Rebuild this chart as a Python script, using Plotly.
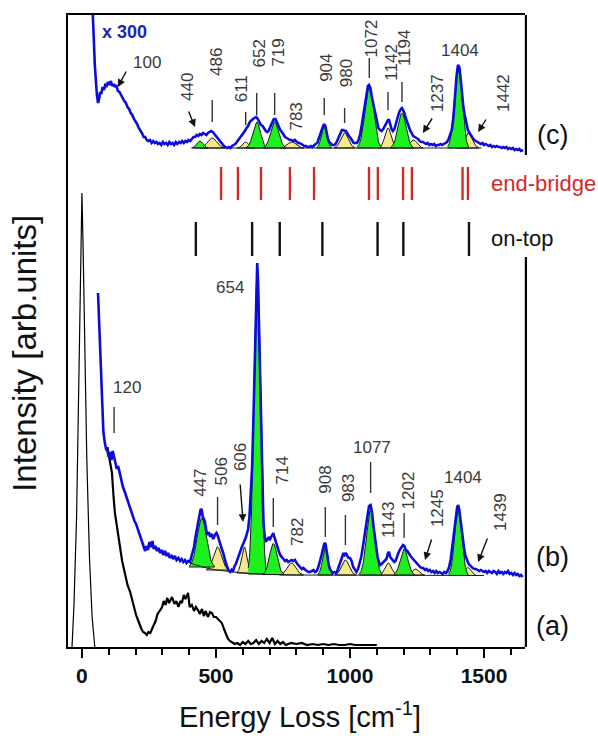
import numpy as np
import plotly.graph_objects as go

FONT = "Liberation Sans, Arial, sans-serif"
BLUE = "#0b0bdc"
GREEN = "#1ef01e"
YELLOW = "#f5e98c"
RED = "#d12a2a"
LABEL = "#3a3a3a"

# ---------------- spectra (x: energy loss / cm^-1, y: intensity incl. offset) ----
# (a) elastic line
a_el_x = [-37, -30, -20, -10, -4, 0, 4, 10, 18, 28, 38, 48]
a_el_y = [0, 40, 130, 290, 400, 454, 405, 300, 190, 90, 30, 0]

# (a) low-frequency spectrum
a_x = [95, 105, 112, 118, 123, 132, 142, 150, 160, 170, 180, 187, 195, 202, 209, 215,
       222, 228, 235, 242, 248, 255, 261, 268, 275, 282, 290, 299, 305, 312, 318, 325,
       336, 345, 352, 360, 367, 373, 380, 386, 396, 402, 410, 418, 425, 433, 440, 448,
       455, 462, 470, 478, 485, 492, 500, 508, 515, 522, 530, 538, 545, 552, 560, 570,
       580, 590, 600, 610, 620, 630, 640, 650, 660, 670, 680, 690, 700, 710, 720, 730,
       740, 750, 760, 780, 800, 820, 840, 860, 880, 900, 920, 940, 960, 980, 1000, 1020,
       1040, 1060, 1080, 1100]
a_y = [200, 186, 174, 150, 134, 118, 100, 86, 74, 62, 55, 47, 40, 32, 27, 22,
       18, 15, 14, 12, 15, 14, 17, 22, 26, 33, 36, 40, 46, 42, 49, 44,
       50, 43, 46, 40, 46, 44, 52, 48, 54, 40, 42, 36, 40, 37, 33, 38,
       31, 36, 30, 35, 34, 30, 30, 28, 26, 24, 18, 12, 8, 6, 5, 3,
       4, 2, 5, 3, 6, 3, 4, 7, 3, 6, 4, 8, 4, 9, 3, 6,
       3, 5, 2, 4, 3, 4, 2, 3, 2, 3, 2, 3, 2, 2, 3, 2,
       2, 2, 2, 2]

# (b) spectrum
b_x = [60, 63, 66, 70, 74, 77, 80, 85, 90, 95, 100, 105, 110, 115, 120, 125, 130, 135,
       142, 148, 153, 160, 166, 172, 178, 184, 190, 196, 202, 208, 214, 220, 226, 231,
       236, 241, 246, 252, 258, 263, 268, 274, 280, 286, 292, 298, 304, 310, 316, 322,
       328, 334, 340, 347, 353, 360, 366, 372, 378, 384, 390, 396, 403, 410, 418, 425,
       432, 438, 443, 447, 451, 455, 459, 464, 469, 474, 479, 484, 490, 496, 502, 507,
       512, 517, 522, 527, 532, 537, 542, 548, 553, 558, 563, 568, 574, 580, 586, 592,
       598, 603, 608, 612, 616, 620, 625, 630, 635, 640, 645, 649, 654, 657, 661, 665,
       669, 673, 677, 682, 687, 692, 697, 702, 708, 714, 719, 724, 729, 734, 740, 746,
       752, 758, 764, 770, 776, 782, 788, 795, 801, 807, 814, 820, 826, 832, 838, 845,
       851, 858, 864, 870, 876, 882, 888, 894, 899, 904, 908, 912, 916, 920, 925, 930,
       936, 942, 948, 954, 960, 966, 971, 976, 980, 985, 990, 995, 1000, 1006, 1012, 1018,
       1024, 1030, 1036, 1042, 1048, 1054, 1060, 1066, 1071, 1077, 1082, 1088, 1093, 1098,
       1103, 1108, 1113, 1118, 1124, 1130, 1136, 1142, 1146, 1150, 1155, 1160, 1165, 1170,
       1176, 1182, 1188, 1194, 1198, 1203, 1208, 1214, 1220, 1226, 1232, 1238, 1244, 1250,
       1256, 1262, 1268, 1274, 1280, 1286, 1292, 1298, 1304, 1310, 1316, 1322, 1328, 1334,
       1340, 1346, 1352, 1358, 1364, 1370, 1376, 1382, 1388, 1394, 1400, 1404, 1408, 1412,
       1416, 1420, 1425, 1430, 1436, 1441, 1446, 1452, 1458, 1464, 1470, 1476, 1482, 1488,
       1494, 1500, 1506, 1512, 1518, 1524, 1530, 1536, 1542, 1548, 1554, 1560, 1566, 1572,
       1578, 1584, 1590, 1596, 1602, 1608, 1614, 1620, 1626, 1632, 1638, 1644]
b_y = [354, 330, 305, 280, 255, 230, 215, 205, 198, 196, 190, 195, 187, 196, 190, 183, 178, 181,
       172, 166, 160, 155, 150, 146, 140, 137, 131, 126, 123, 118, 113, 108, 104, 99,
       96, 101, 97, 105, 100, 106, 98, 101, 96, 99, 94, 97, 92, 96, 91, 94,
       89, 92, 88, 91, 87, 89, 86, 88, 85, 87, 84, 86, 85, 92, 100, 112,
       124, 132, 138, 137, 130, 128, 125, 116, 112, 115, 110, 113, 108, 112, 114, 111,
       106, 103, 98, 94, 88, 84, 80, 76, 75, 77, 75, 80, 83, 88, 92, 96,
       101, 104, 107, 110, 114, 118, 130, 150, 180, 230, 290, 350, 384, 365, 320, 270,
       210, 160, 125, 110, 106, 107, 110, 108, 112, 114, 109, 104, 100, 96, 92, 90,
       89, 86, 87, 85, 86, 87, 86, 87, 84, 82, 80, 78, 79, 77, 76, 75,
       75, 76, 77, 75, 76, 80, 85, 92, 98, 103, 104, 99, 91, 83, 78, 76,
       74, 75, 74, 77, 82, 88, 92, 94, 92, 94, 91, 89, 89, 86, 80, 77,
       75, 78, 83, 90, 100, 112, 124, 135, 141, 142, 135, 120, 110, 98,
       90, 85, 82, 83, 85, 86, 88, 94, 95, 90, 88, 87, 85, 86,
       91, 95, 98, 101, 102, 101, 97, 96, 93, 91, 89, 87, 85, 84,
       81, 80, 79, 79, 77, 78, 76, 77, 75, 76, 74, 76, 74, 75,
       74, 73, 75, 74, 76, 80, 88, 102, 118, 132, 140, 142, 137, 128,
       118, 110, 100, 92, 87, 84, 82, 80, 79, 78, 78, 77, 76, 77,
       76, 75, 76, 74, 76, 75, 74, 76, 75, 73, 76, 74, 75, 73,
       75, 74, 76, 73, 74, 72, 74, 72, 73, 71, 72, 70]

# (c) spectrum (x 300)
c_x = [36, 40, 44, 48, 52, 56, 60, 64, 68, 72, 77, 82, 87, 92, 97, 102, 108, 113, 118, 123,
       128, 134, 140, 146, 152, 158, 164, 170, 176, 182, 188, 194, 200, 206, 212, 218, 224,
       230, 236, 242, 248, 254, 260, 266, 272, 278, 284, 290, 296, 302, 308, 314, 320, 326,
       332, 338, 344, 350, 356, 362, 368, 374, 380, 386, 392, 398, 404, 410, 416, 422, 428,
       434, 440, 446, 452, 458, 464, 470, 476, 482, 488, 494, 500, 506, 512, 518, 524, 530,
       536, 542, 548, 554, 560, 566, 572, 578, 584, 590, 596, 602, 608, 614, 620, 626, 632,
       638, 644, 650, 656, 662, 668, 674, 680, 686, 692, 698, 704, 710, 716, 722, 728, 734,
       740, 746, 752, 758, 764, 770, 776, 782, 788, 794, 800, 806, 812, 818, 824, 830, 836,
       842, 848, 854, 860, 866, 872, 878, 884, 890, 896, 900, 904, 908, 912, 917, 922, 928,
       934, 940, 946, 952, 958, 964, 970, 976, 980, 985, 990, 996, 1002, 1008, 1014, 1020,
       1026, 1032, 1038, 1044, 1050, 1056, 1062, 1067, 1071, 1076, 1081, 1086, 1091, 1096,
       1101, 1106, 1112, 1118, 1124, 1130, 1136, 1142, 1146, 1150, 1155, 1160, 1166, 1172,
       1178, 1184, 1190, 1194, 1198, 1203, 1208, 1213, 1218, 1224, 1230, 1236, 1242, 1248,
       1254, 1260, 1266, 1272, 1278, 1284, 1290, 1296, 1302, 1308, 1314, 1320, 1326, 1332,
       1338, 1344, 1350, 1356, 1362, 1368, 1374, 1380, 1386, 1392, 1398, 1403, 1408, 1413,
       1418, 1423, 1428, 1434, 1440, 1446, 1452, 1458, 1464, 1470, 1476, 1482, 1488, 1494,
       1500, 1506, 1512, 1518, 1524, 1530, 1536, 1542, 1548, 1554, 1560, 1566, 1572, 1578,
       1584, 1590, 1596, 1602, 1608, 1614, 1620, 1626, 1632, 1638, 1646]
c_y = [660, 640, 610, 582, 565, 552, 544, 548, 555, 553, 560, 557, 562, 561, 565, 562, 566, 561, 563, 560,
       562, 556, 555, 551, 549, 546, 544, 540, 538, 534, 532, 528, 526, 523, 519, 517, 514,
       510, 510, 507, 506, 507, 504, 506, 504, 505, 503, 504, 502, 505, 503, 504, 502, 505,
       503, 504, 502, 505, 503, 505, 504, 506, 504, 506, 505, 507, 506, 508, 510, 510, 512,
       511, 513, 512, 514, 513, 512, 514, 515, 516, 515, 513, 511, 508, 506, 504, 502, 501,
       500, 499, 500, 499, 501, 502, 503, 505, 507, 509, 511, 514, 516, 519, 521, 525, 527,
       528, 529, 530, 528, 524, 522, 521, 518, 516, 515, 517, 521, 525, 528, 528, 524, 520,
       517, 515, 512, 510, 509, 508, 507, 507, 506, 507, 505, 504, 504, 503, 502, 501, 501,
       500, 500, 501, 500, 502, 503, 504, 508, 513, 518, 521, 523, 521, 515, 509, 505, 503,
       502, 502, 503, 506, 510, 514, 517, 517, 516, 516, 513, 511, 509, 506, 504, 504,
       504, 507, 513, 522, 533, 545, 555, 561, 562, 559, 551, 543, 538, 532,
       524, 519, 517, 516, 518, 521, 525, 527, 527, 523, 518, 516, 518, 524,
       530, 535, 538, 539, 537, 534, 529, 525, 521, 517, 514, 511, 510, 509,
       508, 506, 505, 505, 504, 503, 504, 502, 503, 502, 503, 501, 502, 502,
       503, 502, 503, 504, 505, 508, 512, 517, 530, 552, 572, 582, 580, 568,
       552, 540, 532, 523, 517, 514, 511, 509, 507, 506, 505, 504, 503, 504,
       502, 503, 502, 501, 502, 500, 501, 500, 501, 500, 500, 499, 500, 499,
       500, 498, 499, 498, 499, 497, 498, 497, 498, 496, 497]

# fit baselines
b_base_x = [403, 450, 500, 560, 620, 700, 800, 1500]
b_base_y = [84, 80, 77, 75, 73.5, 72.5, 72, 71.5]
c_base_x = [418, 1490]
c_base_y = [499, 499]

# fitted components: position, height, width (sigma), base level, kind (g = green, y = yellow)
b_pk_pos = [447, 506, 606, 654, 714, 782, 908, 983, 1077, 1143, 1202, 1245, 1404, 1439]
b_pk_height = [49, 23, 26, 309, 31, 12, 28, 15, 65, 12, 26, 6, 66, 8]
b_pk_sigma = [17, 15, 10, 12, 14, 16, 10, 14, 15, 12, 14, 12, 13, 12]
b_pk_base = [80, 77, 74, 73, 72.5, 72, 72, 72, 72, 72, 72, 72, 71.5, 71.5]
b_pk_kind = ["g", "y", "y", "g", "g", "y", "g", "y", "g", "y", "g", "y", "g", "y"]

c_pk_pos = [440, 486, 611, 652, 719, 783, 904, 980, 1072, 1142, 1194, 1237, 1404, 1442]
c_pk_height = [7, 10, 6, 26, 26, 6, 23, 15, 61, 20, 35, 8, 80, 15]
c_pk_sigma = [11, 17, 11, 14, 15, 16, 10, 14, 16, 12, 15, 13, 14, 14]
c_pk_base = [499] * 14
c_pk_kind = ["g", "y", "y", "g", "g", "y", "g", "y", "g", "y", "g", "y", "g", "y"]

# calculated mode positions
end_bridge = [519, 582, 668, 776, 866, 1071, 1104, 1198, 1231, 1420, 1440]
on_top = [425, 635, 738, 897, 1103, 1199, 1444]

# ---------------- label placement: value -> (text x, text y, angle, marker) ----------
c_label_layout = {
    100: (243, 585, 0, ("arrow", 168, 577, 134, 560)),
    440: (392, 560, -90, ("arrow", 396, 537, 422, 520)),
    486: (500, 585, -90, ("line", 525, 547)),
    611: (594, 558, -90, ("line", 522, 535)),
    652: (662, 594, -90, ("line", 532, 554)),
    719: (730, 594, -90, ("line", 532, 554)),
    783: (797, 530, -90, None),
    904: (910, 579, -90, ("line", 532, 549)),
    980: (986, 574, -90, ("line", 524, 539)),
    1072: (1080, 609, -90, ("line", 569, 589)),
    1142: (1152, 585, -90, ("line", 537, 555)),
    1194: (1202, 599, -90, ("line", 545, 565)),
    1237: (1325, 554, -90, ("arrow", 1310, 530, 1272, 514)),
    1404: (1410, 597, 0, None),
    1442: (1571, 554, -90, ("arrow", 1511, 529, 1478, 515)),
}
b_label_layout = {
    120: (168, 260, 0, ("line", 214, 240)),
    447: (440, 164, -90, None),
    506: (517, 175, -90, ("line", 122, 150)),
    606: (590, 190, -90, ("arrow", 590, 164, 601, 125)),
    654: (552, 360, 0, None),
    714: (748, 177, -90, ("line", 120, 149)),
    782: (802, 115, -90, None),
    908: (906, 167, -90, ("line", 110, 140)),
    983: (993, 159, -90, ("line", 102, 132)),
    1077: (1082, 200, 0, ("line", 154, 185)),
    1143: (1142, 127, -90, None),
    1202: (1218, 157, -90, ("line", 109, 134)),
    1245: (1325, 139, -90, ("arrow", 1306, 109, 1280, 87)),
    1404: (1422, 170, 0, None),
    1439: (1560, 135, -90, ("arrow", 1515, 110, 1478, 85)),
}

fig = go.Figure()


def add_components(pos, height, sigma, base, kind):
    # yellow components underneath, green components on top
    for want in ("y", "g"):
        for p, h, s, b0, k in zip(pos, height, sigma, base, kind):
            if k != want:
                continue
            xs = np.linspace(p - 2.8 * s, p + 2.8 * s, 60)
            ys = b0 + h * np.exp(-0.5 * ((xs - p) / s) ** 2)
            fig.add_trace(go.Scatter(
                x=np.r_[xs, xs[-1], xs[0]], y=np.r_[ys, b0, b0],
                mode="lines", fill="toself",
                fillcolor=GREEN if k == "g" else YELLOW,
                line=dict(color="#1a1a1a", width=1),
                hoverinfo="skip", showlegend=False))


# spectrum (a)
fig.add_trace(go.Scatter(x=a_el_x, y=a_el_y, mode="lines",
                         line=dict(color="black", width=1.2), showlegend=False))
fig.add_trace(go.Scatter(x=a_x, y=a_y, mode="lines",
                         line=dict(color="black", width=2.2), showlegend=False))

# spectrum (b) with fitted components
add_components(b_pk_pos, b_pk_height, b_pk_sigma, b_pk_base, b_pk_kind)
fig.add_trace(go.Scatter(x=b_base_x, y=b_base_y, mode="lines",
                         line=dict(color="#1a1a1a", width=1), showlegend=False))
fig.add_trace(go.Scatter(x=b_x, y=b_y, mode="lines",
                         line=dict(color=BLUE, width=2.6), showlegend=False))

# spectrum (c) with fitted components
add_components(c_pk_pos, c_pk_height, c_pk_sigma, c_pk_base, c_pk_kind)
fig.add_trace(go.Scatter(x=c_base_x, y=c_base_y, mode="lines",
                         line=dict(color="#1a1a1a", width=1), showlegend=False))
fig.add_trace(go.Scatter(x=c_x, y=c_y, mode="lines",
                         line=dict(color=BLUE, width=2.6), showlegend=False))

shapes = []
annotations = []

# calculated modes
for v in end_bridge:
    shapes.append(dict(type="line", xref="x", yref="y", x0=v, x1=v, y0=447, y1=480,
                       line=dict(color=RED, width=2.4)))
for v in on_top:
    shapes.append(dict(type="line", xref="x", yref="y", x0=v, x1=v, y0=391, y1=425,
                       line=dict(color="#111111", width=2.4)))

# peak labels
for layout_map in (c_label_layout, b_label_layout):
    for v, (tx, ty, ang, mark) in layout_map.items():
        annotations.append(dict(x=tx, y=ty, xref="x", yref="y", text=str(v),
                                textangle=ang, showarrow=False,
                                xanchor="center", yanchor="middle",
                                font=dict(family=FONT, size=17, color=LABEL)))
        if mark is None:
            continue
        if mark[0] == "line":
            shapes.append(dict(type="line", xref="x", yref="y", x0=v, x1=v,
                               y0=mark[1], y1=mark[2],
                               line=dict(color="#333333", width=1.4)))
        else:
            _, x0, y0, x1, y1 = mark
            annotations.append(dict(x=x1, y=y1, ax=x0, ay=y0, xref="x", yref="y",
                                    axref="x", ayref="y", text="", showarrow=True,
                                    arrowhead=2, arrowsize=1.1, arrowwidth=1.4,
                                    arrowcolor="#111111"))

# right frame edge, interrupted where the mode legends sit
for y0, y1 in ((492, 632), (0, 390)):
    shapes.append(dict(type="line", xref="paper", yref="y", x0=1.002, x1=1.002,
                       y0=y0, y1=y1, line=dict(color="black", width=2.2)))

# text labels
annotations += [
    dict(x=67, y=615, xref="x", yref="y", text="<b>x 300</b>", showarrow=False,
         xanchor="left", yanchor="middle", font=dict(family=FONT, size=18, color="#2323b4")),
    dict(x=1.061, y=512, xref="paper", yref="y", text="(c)", showarrow=False,
         xanchor="center", yanchor="middle",
         font=dict(family=FONT, size=27, color="#111111")),
    dict(x=1.061, y=90, xref="paper", yref="y", text="(b)", showarrow=False,
         xanchor="center", yanchor="middle",
         font=dict(family=FONT, size=27, color="#111111")),
    dict(x=1.061, y=21, xref="paper", yref="y", text="(a)", showarrow=False,
         xanchor="center", yanchor="middle",
         font=dict(family=FONT, size=27, color="#111111")),
    dict(x=0.921, y=464, xref="paper", yref="y", text="end-bridge", showarrow=False,
         xanchor="left", yanchor="middle", font=dict(family=FONT, size=22, color=RED)),
    dict(x=0.921, y=409, xref="paper", yref="y", text="on-top", showarrow=False,
         xanchor="left", yanchor="middle", font=dict(family=FONT, size=22, color="#111111")),
    dict(x=0.508, y=-0.108, xref="paper", yref="paper",
         text="Energy Loss [cm<sup>-1</sup>]", showarrow=False,
         xanchor="center", yanchor="middle",
         font=dict(family=FONT, size=29, color="#111111")),
    dict(x=-0.094, y=0.464, xref="paper", yref="paper",
         text="Intensity [arb.units]", showarrow=False, textangle=-90,
         xanchor="center", yanchor="middle",
         font=dict(family=FONT, size=33, color="#111111")),
]

fig.update_layout(
    width=598, height=736,
    margin=dict(l=68, r=73, t=15, b=89),
    paper_bgcolor="white", plot_bgcolor="white",
    showlegend=False,
    shapes=shapes, annotations=annotations,
    xaxis=dict(range=[-52, 1653], showgrid=False, zeroline=False,
               showline=True, mirror=True, linecolor="black", linewidth=2.2,
               ticks="outside", tickvals=[0, 500, 1000, 1500], ticklen=9,
               tickwidth=2, tickcolor="black",
               minor=dict(tickvals=list(range(0, 1700, 100)), ticks="outside",
                          ticklen=6, tickwidth=2, tickcolor="black"),
               tickfont=dict(family=FONT, size=21, color="#111111", weight="bold")),
    yaxis=dict(range=[0, 632], showgrid=False, zeroline=False,
               showline=True, linecolor="black", linewidth=2.2,
               showticklabels=False, ticks=""),
)

fig.write_html("out.html")
